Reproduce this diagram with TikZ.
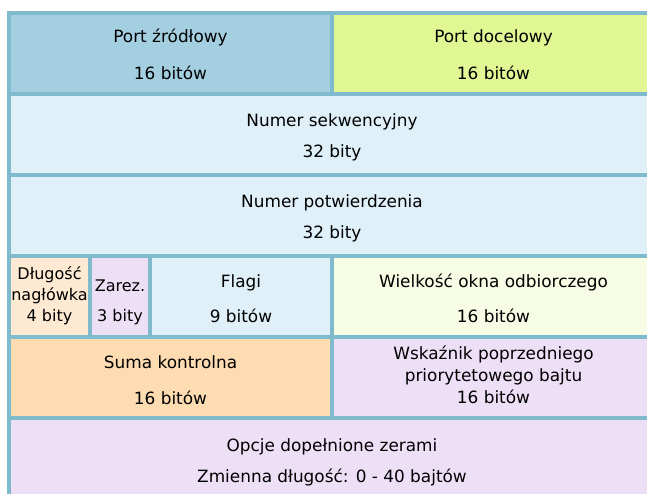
\documentclass[tikz,border=0pt]{standalone}
\usepackage{fontspec}
\setmainfont{DejaVu Sans}
\usetikzlibrary{positioning}

\definecolor{edgeblue}{RGB}{127,186,205}
\definecolor{srcblue}{RGB}{163,207,224}
\definecolor{dstlime}{RGB}{224,247,148}
\definecolor{paleblue}{RGB}{223,240,248}
\definecolor{lightpeach}{RGB}{254,233,210}
\definecolor{peach}{RGB}{254,220,177}
\definecolor{lavender}{RGB}{237,224,246}
\definecolor{paleyellow}{RGB}{247,252,228}

\tikzset{
  cell/.style   = {draw=edgeblue, line width=4pt, rectangle, inner sep=0pt,
                   outer sep=0pt, anchor=north west, minimum height=81pt},
  half/.style   = {cell, minimum width=323pt},
  full/.style   = {cell, minimum width=646pt},
  lbl/.style    = {font=\fontsize{16.9}{20}\selectfont, anchor=base,
                   inner sep=0pt, text=black},
  small/.style  = {lbl, font=\fontsize{16}{20}\selectfont}
}

\begin{document}
\begin{tikzpicture}[x=1pt, y=-1pt]
\useasboundingbox (0,0) rectangle (647,494);
\clip (0,0) rectangle (647,494);

% header rows
\node[half, fill=srcblue]     (srcport)  at (9,13)    {};
\node[half, fill=dstlime]     (dstport)  at (332,13)  {};
\node[full, fill=paleblue]    (seqnum)   at (9,94)    {};
\node[full, fill=paleblue]    (acknum)   at (9,175)   {};
\node[cell, fill=lightpeach, minimum width=81pt]  (hdrlen) at (9,256)   {};
\node[cell, fill=lavender,   minimum width=60pt]  (resvd)  at (90,256)  {};
\node[cell, fill=paleblue,   minimum width=182pt] (flags)  at (150,256) {};
\node[half, fill=paleyellow]  (window)   at (332,256) {};
\node[half, fill=peach]       (checksum) at (9,337)   {};
\node[half, fill=lavender]    (urgent)   at (332,337) {};
\node[full, fill=lavender]    (options)  at (9,418)   {};

% field names and sizes
\node[lbl] (srcname) at ([yshift=-30pt]srcport.north) {Port źródłowy};
\node[lbl] (srcbits) at ([yshift=-67pt]srcport.north) {16 bitów};
\node[lbl] (dstname) at ([yshift=-30pt]dstport.north) {Port docelowy};
\node[lbl] (dstbits) at ([yshift=-67pt]dstport.north) {16 bitów};

\node[lbl] (seqname) at ([yshift=-33pt]seqnum.north) {Numer sekwencyjny};
\node[lbl] (seqbits) at ([yshift=-64pt]seqnum.north) {32 bity};
\node[lbl] (ackname) at ([yshift=-33pt]acknum.north) {Numer potwierdzenia};
\node[lbl] (ackbits) at ([yshift=-64pt]acknum.north) {32 bity};

\node[small] (hdrname1) at ([yshift=-23pt]hdrlen.north) {Długość};
\node[small] (hdrname2) at ([yshift=-44pt]hdrlen.north) {nagłówka};
\node[small] (hdrbits)  at ([yshift=-65pt]hdrlen.north) {4 bity};
\node[small] (resname)  at ([yshift=-35pt]resvd.north)  {Zarez.};
\node[small] (resbits)  at ([yshift=-65pt]resvd.north)  {3 bity};
\node[lbl] (flgname)  at ([yshift=-31pt]flags.north)  {Flagi};
\node[lbl] (flgbits)  at ([yshift=-66.5pt]flags.north) {9 bitów};
\node[lbl] (winname)  at ([yshift=-31pt]window.north) {Wielkość okna odbiorczego};
\node[lbl] (winbits)  at ([yshift=-66.5pt]window.north) {16 bitów};

\node[lbl] (sumname)  at ([yshift=-31pt]checksum.north) {Suma kontrolna};
\node[lbl] (sumbits)  at ([yshift=-67pt]checksum.north) {16 bitów};
\node[lbl] (urgname1) at ([yshift=-22pt]urgent.north) {Wskaźnik poprzedniego};
\node[lbl] (urgname2) at ([yshift=-44pt]urgent.north) {priorytetowego bajtu};
\node[lbl] (urgbits)  at ([yshift=-66pt]urgent.north) {16 bitów};

\node[lbl] (optname)  at ([yshift=-33pt]options.north) {Opcje dopełnione zerami};
\node[lbl] (optbits)  at ([yshift=-64pt]options.north) {Zmienna długość: 0 - 40 bajtów};

\end{tikzpicture}
\end{document}
